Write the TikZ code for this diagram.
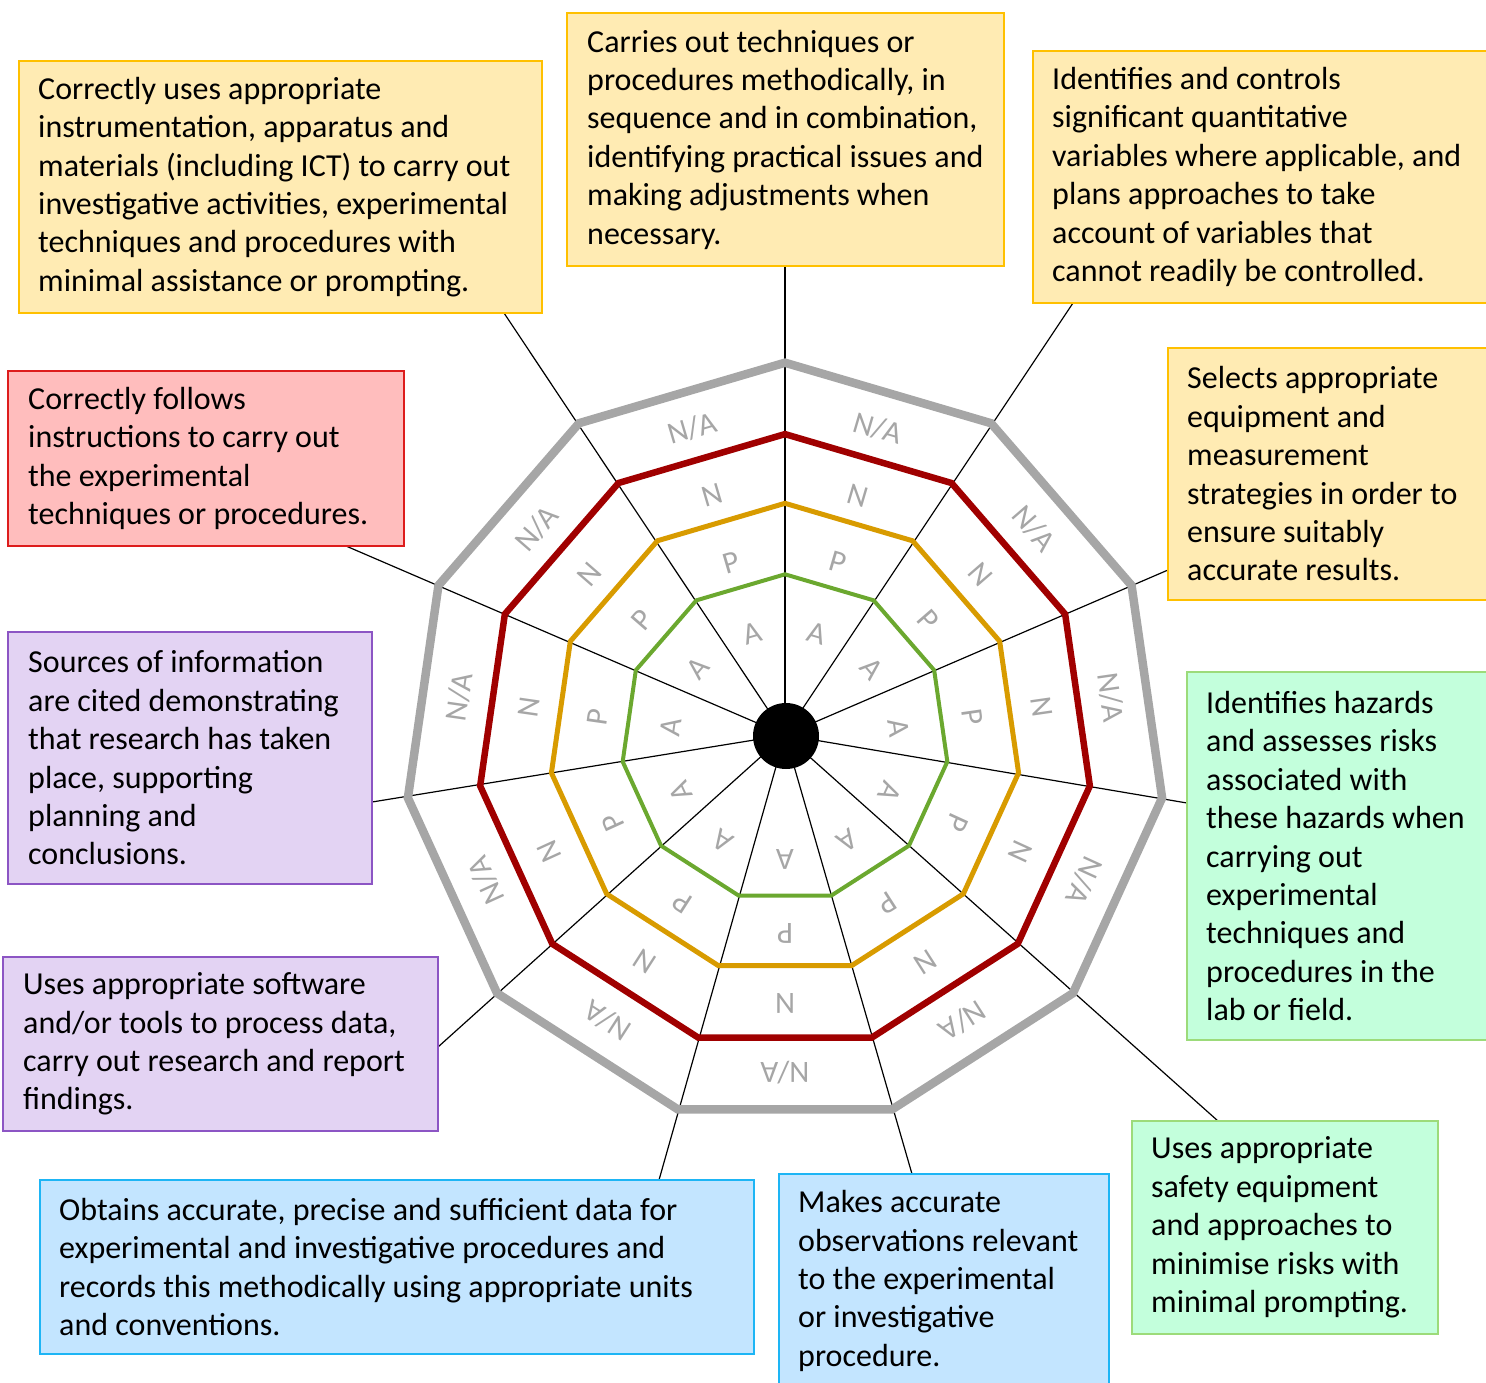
\documentclass[tikz,border=0pt]{standalone}
\usepackage{fontspec}
\setmainfont{Carlito}
\usetikzlibrary{calc}
\definecolor{polygray}{HTML}{A6A6A6}
\definecolor{polyred}{HTML}{A00000}
\definecolor{polyorange}{HTML}{D89B00}
\definecolor{polygreen}{HTML}{6BA82F}
\definecolor{labgray}{HTML}{A6A6A6}
\definecolor{yfill}{HTML}{FFEBB3}
\definecolor{yline}{HTML}{FFC000}
\definecolor{rfill}{HTML}{FFBDBD}
\definecolor{rline}{HTML}{DD1C1C}
\definecolor{pfill}{HTML}{E3D3F3}
\definecolor{pline}{HTML}{8C55C4}
\definecolor{gfill}{HTML}{C3FFDC}
\definecolor{gline}{HTML}{9CDB7A}
\definecolor{bfill}{HTML}{C3E5FF}
\definecolor{bline}{HTML}{1DB5F5}
\begin{document}
\begin{tikzpicture}[x=1pt,y=1pt,
  spoke/.style={black, line width=1.2pt},
  polyg/.style={line join=miter},
  lab/.style={text=labgray, font=\fontsize{31}{37}\selectfont, inner sep=0pt, anchor=center},
  boxbase/.style={rectangle, line width=1.6pt, anchor=north west, inner sep=0pt, outer sep=0pt},
  ybox/.style={boxbase, fill=yfill, draw=yline},
  rbox/.style={boxbase, fill=rfill, draw=rline},
  pbox/.style={boxbase, fill=pfill, draw=pline},
  gbox/.style={boxbase, fill=gfill, draw=gline},
  bbox/.style={boxbase, fill=bfill, draw=bline},
  txt/.style={align=left, inner sep=0pt, anchor=west, text=black, font=\fontsize{32}{38.4}\selectfont}
]
\useasboundingbox (0,0) rectangle (1486,-1382);
\clip (0,0) rectangle (1486,-1382);

% hub and spoke ends
\coordinate (hub) at (785,-735);
\coordinate (lc) at (785,-744);
\coordinate (e0) at (785,-266);
\coordinate (e1) at (1073,-303);
\coordinate (e2) at (1168,-570);
\coordinate (e3) at (1187,-803);
\coordinate (e4) at (1218,-1121);
\coordinate (e5) at (912,-1174);
\coordinate (e6) at (659,-1180);
\coordinate (e7) at (438,-1047);
\coordinate (e8) at (372,-802);
\coordinate (e9) at (346,-546);
\coordinate (e10) at (504,-313);

\foreach \k in {0,...,10}{
  \draw[spoke] (hub) -- (e\k);
}

% polygons
\begin{scope}[shift={(785,-743.7)}]
  \draw[polyg, polygray, line width=8.5pt] (90:381) \foreach \k in {1,...,10}{ -- ({90-360/11*\k}:381)} -- cycle;
\end{scope}
\begin{scope}[shift={(785,-742.1)}]
  \draw[polyg, polyred, line width=6.5pt] (90:308) \foreach \k in {1,...,10}{ -- ({90-360/11*\k}:308)} -- cycle;
\end{scope}
\begin{scope}[shift={(785,-739.3)}]
  \draw[polyg, polyorange, line width=5pt] (90:236) \foreach \k in {1,...,10}{ -- ({90-360/11*\k}:236)} -- cycle;
\end{scope}
\begin{scope}[shift={(785,-738.3)}]
  \draw[polyg, polygreen, line width=4pt] (90:164) \foreach \k in {1,...,10}{ -- ({90-360/11*\k}:164)} -- cycle;
\end{scope}

% centre dot
\node[circle, fill=black, minimum size=66pt, inner sep=0pt] (dot) at (786,-736) {};

% ring labels
\foreach \k in {0,...,10}{
  \pgfmathsetmacro\m{90-360/11*(\k+0.5)}
  \node[lab, rotate=\m-90] (la\k) at ($(lc)+(\m:115)$) {A};
  \node[lab, rotate=\m-90] (lp\k) at ($(lc)+(\m:189)$) {P};
  \node[lab, rotate=\m-90] (ln\k) at ($(lc)+(\m:259)$) {N};
  \node[lab, rotate=\m-90] (lna\k) at ($(lc)+(\m:329)$) {N/A};
}

% boxes
\node[ybox, minimum width=523pt, minimum height=252pt] (b1) at (19,-61) {};
\node[txt] (t1) at ([xshift=19pt]b1.west) {Correctly uses appropriate\\instrumentation, apparatus and\\materials (including ICT) to carry out\\investigative activities, experimental\\techniques and procedures with\\minimal assistance or prompting.};

\node[ybox, minimum width=437pt, minimum height=253pt] (b2) at (567,-13) {};
\node[txt] (t2) at ([xshift=20pt]b2.west) {Carries out techniques or\\procedures methodically, in\\sequence and in combination,\\identifying practical issues and\\making adjustments when\\necessary.};

\node[ybox, minimum width=470pt, minimum height=252pt] (b3) at (1033,-51) {};
\node[txt] (t3) at ([xshift=19pt]b3.west) {Identifies and controls\\significant quantitative\\variables where applicable, and\\plans approaches to take\\account of variables that\\cannot readily be controlled.};

\node[ybox, minimum width=335pt, minimum height=252pt] (b4) at (1168,-348) {};
\node[txt] (t4) at ([xshift=19pt]b4.west) {Selects appropriate\\equipment and\\measurement\\strategies in order to\\ensure suitably\\accurate results.};

\node[gbox, minimum width=316pt, minimum height=368pt] (b5) at (1187,-672) {};
\node[txt] (t5) at ([xshift=19pt]b5.west) {Identifies hazards\\and assesses risks\\associated with\\these hazards when\\carrying out\\experimental\\techniques and\\procedures in the\\lab or field.};

\node[gbox, minimum width=306pt, minimum height=213pt] (b6) at (1132,-1121) {};
\node[txt] (t6) at ([xshift=19pt]b6.west) {Uses appropriate\\safety equipment\\and approaches to\\minimise risks with\\minimal prompting.};

\node[bbox, minimum width=330pt, minimum height=214pt] (b7) at (779,-1174) {};
\node[txt] (t7) at ([xshift=19pt]b7.west) {Makes accurate\\observations relevant\\to the experimental\\or investigative\\procedure.};

\node[bbox, minimum width=714pt, minimum height=174pt] (b8) at (40,-1180) {};
\node[txt] (t8) at ([xshift=19pt]b8.west) {Obtains accurate, precise and sufficient data for\\experimental and investigative procedures and\\records this methodically using appropriate units\\and conventions.};

\node[pbox, minimum width=435pt, minimum height=174pt] (b9) at (3,-957) {};
\node[txt] (t9) at ([xshift=20pt]b9.west) {Uses appropriate software\\and/or tools to process data,\\carry out research and report\\findings.};

\node[pbox, minimum width=364pt, minimum height=252pt] (b10) at (8,-632) {};
\node[txt] (t10) at ([xshift=20pt]b10.west) {Sources of information\\are cited demonstrating\\that research has taken\\place, supporting\\planning and\\conclusions.};

\node[rbox, minimum width=396pt, minimum height=175pt] (b11) at (8,-371) {};
\node[txt] (t11) at ([xshift=20pt]b11.west) {Correctly follows\\instructions to carry out\\the experimental\\techniques or procedures.};
\end{tikzpicture}
\end{document}
